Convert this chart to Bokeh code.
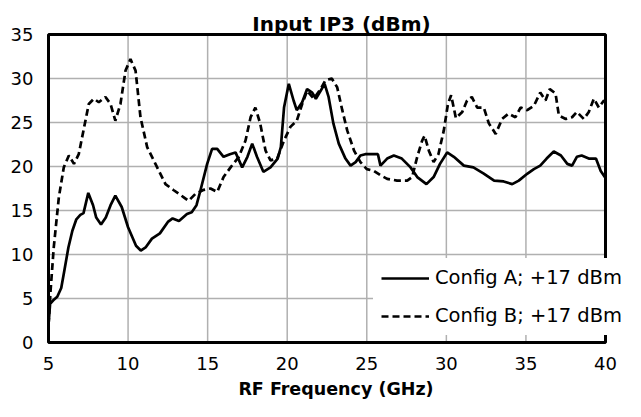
from bokeh.plotting import figure
from bokeh.models import Range1d, FixedTicker, Legend, LegendItem, Label, BoxAnnotation
from bokeh.embed import file_html
from bokeh.resources import INLINE

title_text = "Input IP3 (dBm)"
x_label = "RF Frequency (GHz)"
x_ticks = [5, 10, 15, 20, 25, 30, 35, 40]
y_ticks = [0, 5, 10, 15, 20, 25, 30, 35]
series_names = ["Config A; +17 dBm", "Config B; +17 dBm"]

freq_a = [5.0, 5.1, 5.3, 5.55, 5.8, 6.0, 6.25, 6.5, 6.75, 7.0, 7.2, 7.5, 7.8, 8.0, 8.3, 8.6, 8.9,
          9.2, 9.6, 10.0, 10.5, 10.8, 11.1, 11.5, 12.0, 12.5, 12.8, 13.2, 13.7, 14.0, 14.3, 14.55,
          14.97, 15.28, 15.6, 16.0, 16.4, 16.75, 17.17, 17.5, 17.8, 18.1, 18.5, 18.95, 19.4, 19.6,
          19.8, 20.1, 20.4, 20.6, 20.94, 21.25, 21.57, 21.8, 22.1, 22.35, 22.6, 22.9, 23.24, 23.66,
          23.98, 24.3, 24.6, 24.9, 25.7, 25.86, 26.28, 26.7, 27.2, 27.75, 28.17, 28.75, 29.2, 29.6,
          30.05, 30.47, 31.1, 31.7, 32.35, 33.0, 33.6, 34.14, 34.55, 35.1, 35.5, 35.9, 36.3, 36.75,
          37.2, 37.6, 37.9, 38.2, 38.5, 38.95, 39.4, 39.7, 40.0]
ip3_a = [2.0, 4.4, 4.8, 5.2, 6.2, 8.2, 10.8, 12.7, 14.0, 14.5, 14.7, 17.0, 15.6, 14.2, 13.4, 14.2, 15.6,
         16.7, 15.4, 13.1, 11.0, 10.45, 10.8, 11.8, 12.4, 13.7, 14.1, 13.8, 14.6, 14.8, 15.6, 17.3,
         20.3, 22.0, 22.0, 21.1, 21.4, 21.6, 19.9, 21.1, 22.6, 21.1, 19.4, 19.9, 20.9, 22.2,
         26.7, 29.4, 27.5, 26.4, 27.3, 28.8, 28.4, 27.7, 28.6, 29.4, 27.9, 24.9, 22.6, 20.9,
         20.1, 20.5, 21.25, 21.4, 21.4, 20.1, 20.9, 21.25, 20.9, 19.9, 18.8, 18.0, 18.8, 20.3,
         21.6, 21.1, 20.1, 19.9, 19.2, 18.4, 18.3, 18.0, 18.4, 19.2, 19.7, 20.1, 20.9, 21.7,
         21.25, 20.3, 20.1, 21.1, 21.25, 20.9, 20.9, 19.5, 18.7]

freq_b = [5.0, 5.13, 5.33, 5.65, 5.96, 6.28, 6.6, 6.9, 7.2, 7.53, 7.85, 8.16, 8.58, 8.9, 9.2, 9.52,
          9.84, 10.15, 10.47, 10.78, 11.2, 11.72, 12.35, 12.87, 13.5, 13.8, 14.24, 14.76, 15.18,
          15.6, 16.0, 16.44, 16.96, 17.38, 17.7, 18.0, 18.3, 18.64, 18.95, 19.37, 19.8, 20.2, 20.6,
          20.94, 21.25, 21.67, 22.1, 22.4, 22.8, 23.14, 23.46, 23.77, 24.2, 24.6, 25.0, 25.44,
          25.86, 26.28, 26.9, 27.54, 27.85, 28.17, 28.48, 28.63, 28.9, 29.2, 29.5, 29.84, 30.1,
          30.3, 30.6, 31.0, 31.3, 31.6, 31.94, 32.35, 32.67, 33.1, 33.5, 33.9, 34.34, 34.66, 35.08,
          35.5, 35.9, 36.23, 36.5, 36.86, 37.07, 37.5, 37.9, 38.2, 38.64, 38.95, 39.27, 39.58,
          39.9, 40.0]
ip3_b = [2.0, 5.9, 10.8, 16.5, 19.9, 21.25, 20.3, 21.4, 24.1, 27.1, 27.7, 27.3, 27.9, 27.1, 25.2, 27.1,
         30.9, 32.2, 30.9, 25.6, 22.2, 20.3, 18.0, 17.3, 16.5, 16.1, 16.9, 17.35, 17.5,
         17.1, 18.8, 19.9, 21.1, 22.95, 25.6, 26.7, 24.9, 21.8, 20.7, 20.9, 22.95, 24.5, 25.2,
         27.1, 28.6, 27.7, 28.8, 29.8, 30.0, 29.0, 26.4, 24.1, 21.8, 20.5, 19.7, 19.5,
         19.0, 18.6, 18.4, 18.4, 18.8, 21.1, 22.95, 23.5, 21.8, 20.5, 21.4, 24.1, 27.1,
         28.1, 25.5, 26.2, 27.5, 27.9, 26.7, 26.7, 24.9, 23.7, 25.4, 26.0, 25.6, 26.7, 26.4,
         26.9, 28.4, 27.5, 28.8, 28.3, 25.8, 25.4, 25.6, 26.2, 25.4, 26.2, 27.7, 26.7,
         27.5, 27.3]

FONT = "DejaVu Sans"

# ---- layout (pixels) ----
W, H = 625, 401
AX_L, AX_R, AX_T, AX_B = 48, 605, 34, 342      # visible axes box
PAD = 2                                          # frame slack so border lines are not clipped
FR_L, FR_R, FR_T, FR_B = AX_L - PAD, W, 0, AX_B + PAD

x0, x1 = x_ticks[0], x_ticks[-1]
y0, y1 = y_ticks[0], y_ticks[-1]
pxx = (AX_R - AX_L) / (x1 - x0)
pxy = (AX_B - AX_T) / (y1 - y0)

p = figure(width=W, height=H, output_backend="svg", toolbar_location=None,
           x_range=Range1d(x0 - (AX_L - FR_L) / pxx, x1 + (FR_R - AX_R) / pxx),
           y_range=Range1d(y0 - (FR_B - AX_B) / pxy, y1 + (AX_T - FR_T) / pxy),
           min_border_left=FR_L, min_border_right=W - FR_R,
           min_border_top=FR_T, min_border_bottom=H - FR_B)

p.background_fill_color = "white"
p.border_fill_color = "white"
p.outline_line_color = None
p.grid.grid_line_color = None

for ax in (p.xaxis[0], p.yaxis[0]):
    ax.axis_line_color = None
    ax.major_tick_line_color = None
    ax.minor_tick_line_color = None
    ax.major_tick_in = 0
    ax.major_tick_out = 0
    ax.minor_tick_in = 0
    ax.minor_tick_out = 0
    ax.major_label_text_font = FONT
    ax.major_label_text_font_size = "18px"
    ax.major_label_text_color = "black"

p.xaxis.ticker = FixedTicker(ticks=x_ticks)
p.yaxis.ticker = FixedTicker(ticks=y_ticks)
p.xaxis.major_label_standoff = 12
p.yaxis.major_label_standoff = 13

p.xaxis.axis_label = x_label
p.xaxis.axis_label_text_font = FONT
p.xaxis.axis_label_text_font_style = "bold"
p.xaxis.axis_label_text_font_size = "17.5px"
p.xaxis.axis_label_text_color = "black"
p.xaxis.axis_label_standoff = 6

# grid lines limited to the axes box
gx = [[t, t] for t in x_ticks[1:-1]]
gy = [[y0, y1] for t in x_ticks[1:-1]]
hx = [[x0, x1] for t in y_ticks[1:-1]]
hy = [[t, t] for t in y_ticks[1:-1]]
p.multi_line(gx + hx, gy + hy, line_color="#b0b0b0", line_width=1.5)

ra = p.line(freq_a, ip3_a, line_color="black", line_width=2.7)
rb = p.line(freq_b, ip3_b, line_color="black", line_width=2.7, line_dash="7 4")

legend = Legend(items=[LegendItem(label=series_names[0], renderers=[ra]),
                       LegendItem(label=series_names[1], renderers=[rb])],
                location=(373 - FR_L, FR_B - 335), orientation="vertical")
legend.label_text_font = FONT
legend.label_text_font_size = "19.5px"
legend.label_text_color = "black"
legend.glyph_width = 48
legend.glyph_height = 22
legend.label_height = 22
legend.spacing = 15
legend.padding = 8
legend.margin = 0
legend.label_standoff = 6
legend.border_line_alpha = 0
legend.background_fill_color = "white"
legend.background_fill_alpha = 1.0
p.add_layout(legend, "center")

border = BoxAnnotation(left=x0, right=x1, bottom=y0, top=y1, fill_alpha=0,
                       line_color="black", line_alpha=1.0, line_width=3)
p.add_layout(border)

title = Label(x=x0 + (251.7 - AX_L) / pxx, y=y0 + (AX_B - 23.3) / pxy, text=title_text,
              text_font=FONT, text_font_style="bold", text_font_size="20px",
              text_color="black", text_baseline="alphabetic", text_align="left")
p.add_layout(title)

open("out.html", "w").write(file_html(p, INLINE))
